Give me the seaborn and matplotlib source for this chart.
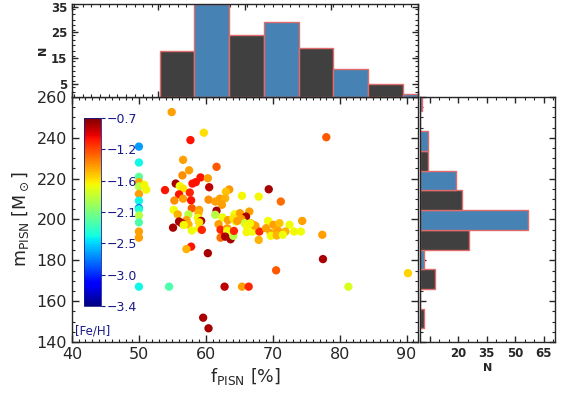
import numpy as np
import matplotlib
matplotlib.use("Agg")
import matplotlib.pyplot as plt
from matplotlib.ticker import MultipleLocator
import seaborn as sns

# scatter data: f_PISN [%], m_PISN [Msun], [Fe/H]
f_pisn = [
    50, 50, 50, 50, 50, 50, 50, 50, 50, 50, 50, 50, 50, 50, 50.8, 51.1,
    54.9, 59.7, 57.7, 78.0, 56.6, 61.6, 57.5, 56.5, 59.2, 60.3, 58.5, 58.0,
    55.5, 56.1, 56.6, 60.5, 53.9, 57.6, 56.0, 63.5, 63.0, 69.4, 65.4, 67.9,
    55.3, 56.6, 57.8, 60.4, 61.4, 62.1, 62.9, 62.4, 71.2, 57.9, 59.0, 55.2,
    55.8, 61.6, 61.4, 57.4, 58.9, 58.8, 62.5, 63.3, 64.3, 65.1, 66.5, 66.0,
    65.3, 64.5, 64.1, 65.8, 66.1, 66.7, 67.4, 69.3, 70.1, 71.0, 72.5, 74.4,
    56.0, 57.1, 57.4, 55.1, 56.4, 56.7, 57.9, 59.0, 59.3, 59.0, 59.4, 61.9,
    62.2, 62.2, 62.8, 63.2, 63.2, 63.7, 62.9, 64.1, 64.2, 66.1, 67.0, 68.0,
    67.9, 69.0, 69.7, 69.7, 70.6, 71.9, 73.2, 74.2, 77.4, 57.8, 57.1, 60.3,
    70.5, 77.5, 90.2, 54.5, 62.8, 65.4, 66.4, 81.3, 59.6, 60.4,
    70.8, 67.3, 66.6, 64.7, 70.6, 71.5,
]
m_pisn = [
    235.7, 227.9, 220.9, 218.3, 216.2, 212.5, 209.2, 205.6, 205.0, 202.0, 198.6, 194.1, 191.1, 167.1, 217.0, 214.6,
    252.6, 242.5, 238.9, 240.3, 229.2, 225.8, 224.1, 221.6, 220.6, 220.2, 218.3, 217.6,
    217.6, 216.4, 215.2, 215.8, 214.4, 213.2, 212.3, 214.7, 213.6, 214.8, 211.6, 211.2,
    209.3, 210.2, 209.4, 209.7, 208.8, 210.2, 210.4, 207.2, 208.8, 205.5, 204.7, 204.7,
    202.5, 204.3, 202.3, 202.5, 203.2, 200.8, 201.0, 199.7, 202.6, 203.1, 203.9, 201.4,
    200.3, 199.0, 200.6, 198.2, 196.9, 198.2, 196.9, 199.3, 197.4, 198.2, 197.4, 199.3,
    199.0, 199.7, 197.6, 196.0, 198.2, 197.3, 194.6, 195.7, 199.3, 198.6, 194.9, 197.7,
    195.0, 191.1, 193.8, 195.7, 194.4, 190.3, 191.6, 192.0, 194.4, 193.8, 194.1, 194.1,
    190.0, 195.7, 193.3, 192.0, 194.4, 194.1, 194.1, 194.1, 192.5, 186.7, 185.5, 183.5,
    175.1, 180.6, 173.7, 167.1, 167.1, 167.1, 167.1, 167.1, 151.9, 146.7,
    194.4, 197.0, 198.0, 199.3, 192.2, 192.5,
]
fe_h = [
    -2.65, -2.4, -2.15, -1.4, -1.85, -1.4, -2.4, -2.75, -2.35, -1.85, -2.2, -1.4, -1.4, -2.4, -1.65, -1.65,
    -1.4, -1.58, -1.0, -1.2, -1.4, -1.2, -1.4, -1.35, -1.0, -1.4, -1.0, -1.0,
    -0.8, -1.68, -1.6, -0.85, -1.0, -1.05, -1.0, -1.38, -1.5, -0.8, -1.65, -1.65,
    -1.35, -1.4, -1.0, -1.35, -1.4, -1.4, -1.45, -1.4, -1.25, -1.2, -1.4, -1.68,
    -1.45, -0.8, -1.85, -1.85, -1.45, -1.65, -1.68, -1.4, -1.68, -1.4, -1.4, -0.8,
    -1.4, -1.68, -1.6, -1.8, -1.65, -1.45, -1.4, -1.68, -1.4, -1.5, -1.68, -1.4,
    -0.8, -1.4, -1.45, -0.8, -0.8, -1.65, -1.68, -1.65, -0.8, -1.6, -1.05, -1.4,
    -1.05, -1.25, -1.0, -1.4, -1.68, -0.8, -0.8, -1.85, -1.05, -1.65, -1.68, -1.05,
    -1.45, -1.4, -1.4, -1.65, -1.45, -1.45, -1.65, -1.68, -1.4, -1.0, -1.45, -0.8,
    -1.2, -0.8, -1.55, -2.2, -0.85, -1.4, -1.05, -1.75, -0.8, -0.8,
    -1.4, -1.4, -1.65, -1.4, -1.45, -1.68,
]

# marginal histograms (counts)
top_edges = [53.2, 58.4, 63.6, 68.9, 74.1, 79.3, 84.5, 89.7, 94.9]
top_counts = [18, 36, 24, 29, 19, 11, 5, 1]
right_edges = [146.7, 156.4, 166.0, 175.7, 185.3, 195.0, 204.6, 214.3, 223.9, 233.6, 243.2, 252.9, 262.5]
right_counts = [2, 0, 8, 2, 26, 57, 22, 19, 4, 4, 0, 1]

cbar_ticks = [-3.4, -2.95, -2.5, -2.05, -1.6, -1.15, -0.7]
cbar_labels = ["\u22123.4", "\u22123.0", "\u22122.5", "\u22122.1", "\u22121.6", "\u22121.2", "\u22120.7"]

sns.set_style("ticks")
plt.rcParams["font.family"] = ["DejaVu Sans"]
plt.rcParams["axes.linewidth"] = 1.0

DARK = "#404040"
BLUE = "#4682b4"
EDGE = "#e06b6b"
NAVY = "#1a1a8c"
jet = plt.get_cmap("jet")

fig = plt.figure(figsize=(5.61, 3.93), dpi=100)
ax = fig.add_axes([0.1283, 0.1298, 0.6168, 0.6234])
ax_top = fig.add_axes([0.1283, 0.7532, 0.6168, 0.2366])
ax_right = fig.add_axes([0.7487, 0.1298, 0.2406, 0.6234])

# main scatter
sns.scatterplot(x=f_pisn, y=m_pisn, hue=fe_h, palette=jet,
                hue_norm=(-3.4, -0.7), s=36, linewidth=0, legend=False, ax=ax)
ax.set_xlim(40, 91.7)
ax.set_ylim(140, 260)
ax.xaxis.set_major_locator(MultipleLocator(10))
ax.xaxis.set_minor_locator(MultipleLocator(1))
ax.yaxis.set_major_locator(MultipleLocator(20))
ax.yaxis.set_minor_locator(MultipleLocator(5))
ax.tick_params(which="both", direction="in", top=True, right=True, labelsize=11.5)
ax.tick_params(which="major", length=5, width=1)
ax.tick_params(which="minor", length=2.5, width=0.8)
ax.set_xlabel(r"f$_{\rm PISN}$ [%]", fontsize=12.5, labelpad=3)
ax.set_ylabel(r"m$_{\rm PISN}$ [M$_\odot$]", fontsize=12.5, labelpad=4)

# colorbar inside the main panel
cax = ax.inset_axes([0.035, 0.147, 0.049, 0.767])
sm = plt.cm.ScalarMappable(cmap=jet, norm=plt.Normalize(-3.4, -0.7))
cb = fig.colorbar(sm, cax=cax)
cb.set_ticks(cbar_ticks)
cb.set_ticklabels(cbar_labels)
cb.outline.set_edgecolor(NAVY)
cb.outline.set_linewidth(0.6)
cax.tick_params(direction="out", length=3, width=0.8, colors=NAVY, labelsize=9, pad=1)
ax.text(0.008, 0.045, "[Fe/H]", transform=ax.transAxes, color=NAVY,
        fontsize=8.5, ha="left", va="center")

# top histogram of f_PISN
top_centers = [(a + b) / 2 for a, b in zip(top_edges[:-1], top_edges[1:])]
sns.histplot(x=top_centers, weights=top_counts, bins=top_edges, ax=ax_top,
             edgecolor=EDGE, linewidth=1.0, alpha=1)
for i, p in enumerate(ax_top.patches):
    p.set_facecolor(DARK if i % 2 == 0 else BLUE)
ax_top.set_xlim(40, 91.7)
ax_top.set_ylim(0, 36)
ax_top.set_xticks([40, 53, 66, 79, 92])
ax_top.xaxis.set_minor_locator(MultipleLocator(1.3))
ax_top.set_yticks([5, 15, 25, 35])
ax_top.yaxis.set_minor_locator(MultipleLocator(2))
ax_top.tick_params(which="both", direction="in", top=True, right=True,
                   labelbottom=False, labelsize=8.5)
ax_top.tick_params(which="major", length=4, width=1)
ax_top.tick_params(which="minor", length=2, width=0.8)
for t in ax_top.get_yticklabels():
    t.set_fontweight("bold")
ax_top.set_xlabel("")
ax_top.set_ylabel("N", fontsize=8, fontweight="bold", labelpad=2)

# right histogram of m_PISN
right_centers = [(a + b) / 2 for a, b in zip(right_edges[:-1], right_edges[1:])]
sns.histplot(y=right_centers, weights=right_counts, bins=right_edges, ax=ax_right,
             edgecolor=EDGE, linewidth=1.0, alpha=1)
for i, p in enumerate(ax_right.patches):
    p.set_facecolor(DARK if i % 2 == 0 else BLUE)
ax_right.set_ylim(140, 260)
ax_right.set_xlim(0, 71)
ax_right.set_xticks([5, 20, 35, 50, 65])
ax_right.set_xticklabels(["", "20", "35", "50", "65"])
ax_right.xaxis.set_minor_locator(MultipleLocator(5))
ax_right.yaxis.set_major_locator(MultipleLocator(20))
ax_right.yaxis.set_minor_locator(MultipleLocator(5))
ax_right.tick_params(which="both", direction="in", top=True, right=True,
                     labelleft=False, labelsize=8.5)
ax_right.tick_params(which="major", length=4, width=1)
ax_right.tick_params(which="minor", length=2, width=0.8)
for t in ax_right.get_xticklabels():
    t.set_fontweight("bold")
ax_right.set_ylabel("")
ax_right.set_xlabel("N", fontsize=8, fontweight="bold", labelpad=2)

fig.savefig("out.png", dpi=100)
